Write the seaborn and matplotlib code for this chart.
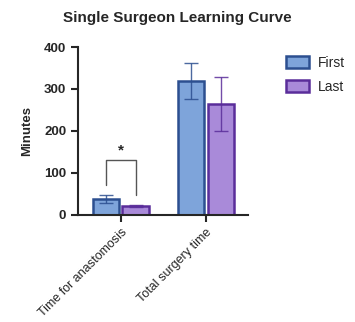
import pandas as pd
import seaborn as sns
import matplotlib.pyplot as plt
from matplotlib.patches import Patch

# Values
categories = ["Time for anastomosis", "Total surgery time"]
groups = ["First", "Last"]
first_mean = [37, 319]
first_sd = [10, 44]
last_mean = [21, 264]
last_sd = [3, 65]

df = pd.DataFrame({
    "Category": categories * 2,
    "Group": ["First"] * 2 + ["Last"] * 2,
    "Minutes": first_mean + last_mean,
    "SD": first_sd + last_sd,
})

fills = {"First": "#7ea4da", "Last": "#a98ad9"}
edges = {"First": "#2c4f90", "Last": "#5a2d9a"}

sns.set_style("ticks")
plt.rcParams["font.family"] = ["Liberation Sans", "DejaVu Sans"]

fig = plt.figure(figsize=(3.55, 3.22), dpi=100)
ax = fig.add_axes([0.22, 0.333, 0.48, 0.521])

sns.barplot(data=df, x="Category", y="Minutes", hue="Group", hue_order=groups,
            palette=fills, saturation=1, width=0.7, gap=0.12, errorbar=None, ax=ax,
            linewidth=1.8, legend=False)

# edge colours and error bars from the drawn bars
for container, g in zip(ax.containers, groups):
    sub = df[df["Group"] == g]
    for bar, (_, row) in zip(container, sub.iterrows()):
        bar.set_edgecolor(edges[g])
        cx = bar.get_x() + bar.get_width() / 2
        ax.errorbar(cx, row["Minutes"], yerr=row["SD"], color=edges[g], alpha=0.85,
                    capsize=5, elinewidth=1.0, capthick=1.0, zorder=1)

# significance bracket between First and Last anastomosis
b1 = ax.containers[0][0]
b2 = ax.containers[1][0]
x1 = b1.get_x() + b1.get_width() / 2
x2 = b2.get_x() + b2.get_width() / 2
ax.plot([x1, x1, x2, x2], [71, 131, 131, 48], color="#555555", lw=1.0)
ax.text((x1 + x2) / 2, 136, "*", ha="center", va="bottom", fontsize=11, fontweight="bold")

ax.set_ylim(0, 400)
ax.set_yticks([0, 100, 200, 300, 400])
ax.set_xlim(-0.5, 1.5)
sns.despine(ax=ax)
ax.spines["left"].set_linewidth(1.5)
ax.spines["bottom"].set_linewidth(1.5)
ax.tick_params(axis="both", width=1.5, length=5, labelsize=9.5)
for lab in ax.get_yticklabels():
    lab.set_fontweight("bold")
plt.setp(ax.get_xticklabels(), rotation=45, ha="right", rotation_mode="anchor", fontsize=9)
ax.set_xlabel("")
ax.set_ylabel("Minutes", fontsize=9.5, fontweight="bold", labelpad=8)
fig.suptitle("Single Surgeon Learning Curve", x=0.5, y=0.965, fontsize=11, fontweight="bold")

handles = [Patch(facecolor=fills[g], edgecolor=edges[g], linewidth=1.8, label=g) for g in groups]
fig.legend(handles=handles, loc="upper left", bbox_to_anchor=(0.77, 0.865), frameon=False,
           fontsize=10, handlelength=1.7, handleheight=0.9, labelspacing=0.7, handletextpad=0.6)

fig.savefig("out.png", dpi=100)
